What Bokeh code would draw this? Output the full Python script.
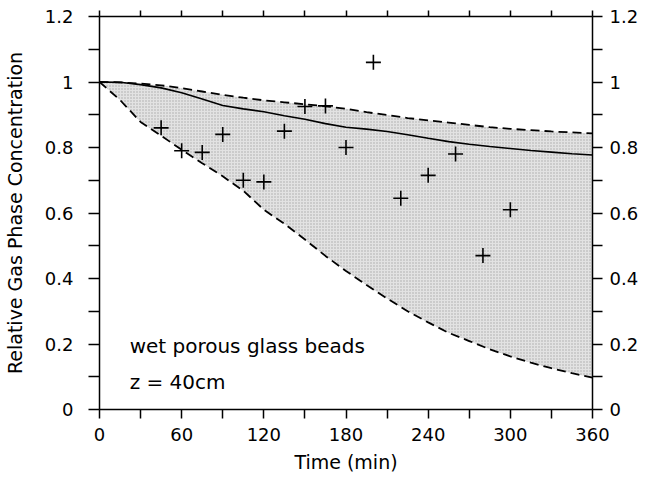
from bokeh.plotting import figure
from bokeh.models import Range1d, LinearAxis, FixedTicker, Label
from bokeh.embed import file_html
from bokeh.resources import INLINE

# ---- data ----
t_model = [0, 15, 30, 45, 60, 75, 90, 105, 120, 135, 150, 165, 180, 195, 210,
           225, 240, 255, 270, 285, 300, 315, 330, 345, 360]
upper_bound = [1.0, 0.999, 0.995, 0.99, 0.981, 0.971, 0.961, 0.952, 0.944, 0.938,
               0.932, 0.926, 0.918, 0.908, 0.899, 0.89, 0.883, 0.876, 0.869,
               0.862, 0.857, 0.853, 0.849, 0.846, 0.843]
model_mean = [1.0, 0.999, 0.992, 0.982, 0.967, 0.948, 0.928, 0.918, 0.909, 0.897,
              0.886, 0.873, 0.862, 0.856, 0.849, 0.839, 0.828, 0.818, 0.81,
              0.803, 0.797, 0.791, 0.786, 0.781, 0.777]
lower_bound = [1.0, 0.945, 0.878, 0.836, 0.793, 0.752, 0.712, 0.668, 0.61, 0.567,
               0.519, 0.469, 0.423, 0.38, 0.339, 0.30, 0.266, 0.234, 0.209,
               0.184, 0.162, 0.143, 0.126, 0.111, 0.097]

t_meas = [45, 60, 75, 90, 105, 120, 135, 150, 165, 180, 200, 220, 240, 260, 280, 300]
c_meas = [0.86, 0.79, 0.785, 0.84, 0.70, 0.695, 0.85, 0.925, 0.927, 0.80, 1.06,
          0.645, 0.715, 0.78, 0.47, 0.61]

x_ticks = [0, 60, 120, 180, 240, 300, 360]
x_minor = [30, 90, 150, 210, 270, 330]
y_ticks = [0, 0.2, 0.4, 0.6, 0.8, 1.0, 1.2]
y_tick_labels = ["0", "0.2", "0.4", "0.6", "0.8", "1", "1.2"]
y_minor = [0.1, 0.3, 0.5, 0.7, 0.9, 1.1]

FONT = "DejaVu Sans"

p = figure(frame_width=493, frame_height=393,
           x_range=Range1d(0, 360), y_range=Range1d(0, 1.2),
           output_backend="svg", toolbar_location=None,
           min_border_left=99, min_border_right=44,
           min_border_top=16, min_border_bottom=66)
p.xgrid.visible = False
p.ygrid.visible = False
p.outline_line_color = None
p.background_fill_color = "white"


def style_axis(ax, out_len, labels=True, size="18px"):
    ax.major_tick_in = 0
    ax.minor_tick_in = 0
    ax.major_tick_out = out_len
    ax.minor_tick_out = out_len
    ax.axis_line_width = 1.5
    ax.major_tick_line_width = 1.5
    ax.minor_tick_line_width = 1.5
    ax.axis_line_color = "black"
    ax.major_tick_line_color = "black"
    ax.minor_tick_line_color = "black"
    ax.major_label_text_font = FONT
    ax.major_label_text_font_size = size if labels else "0px"
    ax.major_label_text_color = "black"
    ax.axis_label_text_font = FONT
    ax.axis_label_text_font_style = "normal"
    ax.axis_label_text_font_size = "19px"
    ax.axis_label_text_color = "black"


xt = FixedTicker(ticks=x_ticks, minor_ticks=x_minor)
yt = FixedTicker(ticks=y_ticks, minor_ticks=y_minor)
y_over = {k: v for k, v in zip(y_ticks, y_tick_labels)}

bx = p.xaxis[0]
bx.ticker = xt
style_axis(bx, 9)
bx.major_label_standoff = 9
bx.axis_label = "Time (min)"
bx.axis_label_standoff = 7

ly = p.yaxis[0]
ly.ticker = yt
ly.major_label_overrides = y_over
style_axis(ly, 11)
ly.major_label_standoff = 15
ly.axis_label = "Relative Gas Phase Concentration"
ly.axis_label_standoff = 16

ry = LinearAxis(ticker=yt, major_label_overrides=y_over)
style_axis(ry, 10)
ry.major_label_standoff = 7
p.add_layout(ry, "right")

tx = LinearAxis(ticker=xt, major_label_overrides={k: "" for k in x_ticks})
style_axis(tx, 6, labels=False)
tx.major_label_standoff = 0
p.add_layout(tx, "above")

# shaded band between bounds
p.varea(x=t_model, y1=lower_bound, y2=upper_bound,
        fill_color="#e2e2e2", fill_alpha=1.0,
        hatch_pattern="dot", hatch_color="#9a9a9a", hatch_scale=3,
        hatch_weight=0.6, hatch_alpha=0.8)

p.line(t_model, upper_bound, line_color="black", line_width=1.8, line_dash="9 5")
p.line(t_model, lower_bound, line_color="black", line_width=1.8, line_dash="9 5")
p.line(t_model, model_mean, line_color="black", line_width=1.6)

p.scatter(t_meas, c_meas, marker="cross", size=15, line_color="black", line_width=1.6)

p.add_layout(Label(x=22, y=0.195, text="wet porous glass beads",
                   text_font=FONT, text_font_size="20px", text_color="black",
                   text_baseline="alphabetic"))
p.add_layout(Label(x=22, y=0.083, text="z = 40cm",
                   text_font=FONT, text_font_size="20px", text_color="black",
                   text_baseline="alphabetic"))

open("out.html", "w").write(file_html(p, INLINE))
